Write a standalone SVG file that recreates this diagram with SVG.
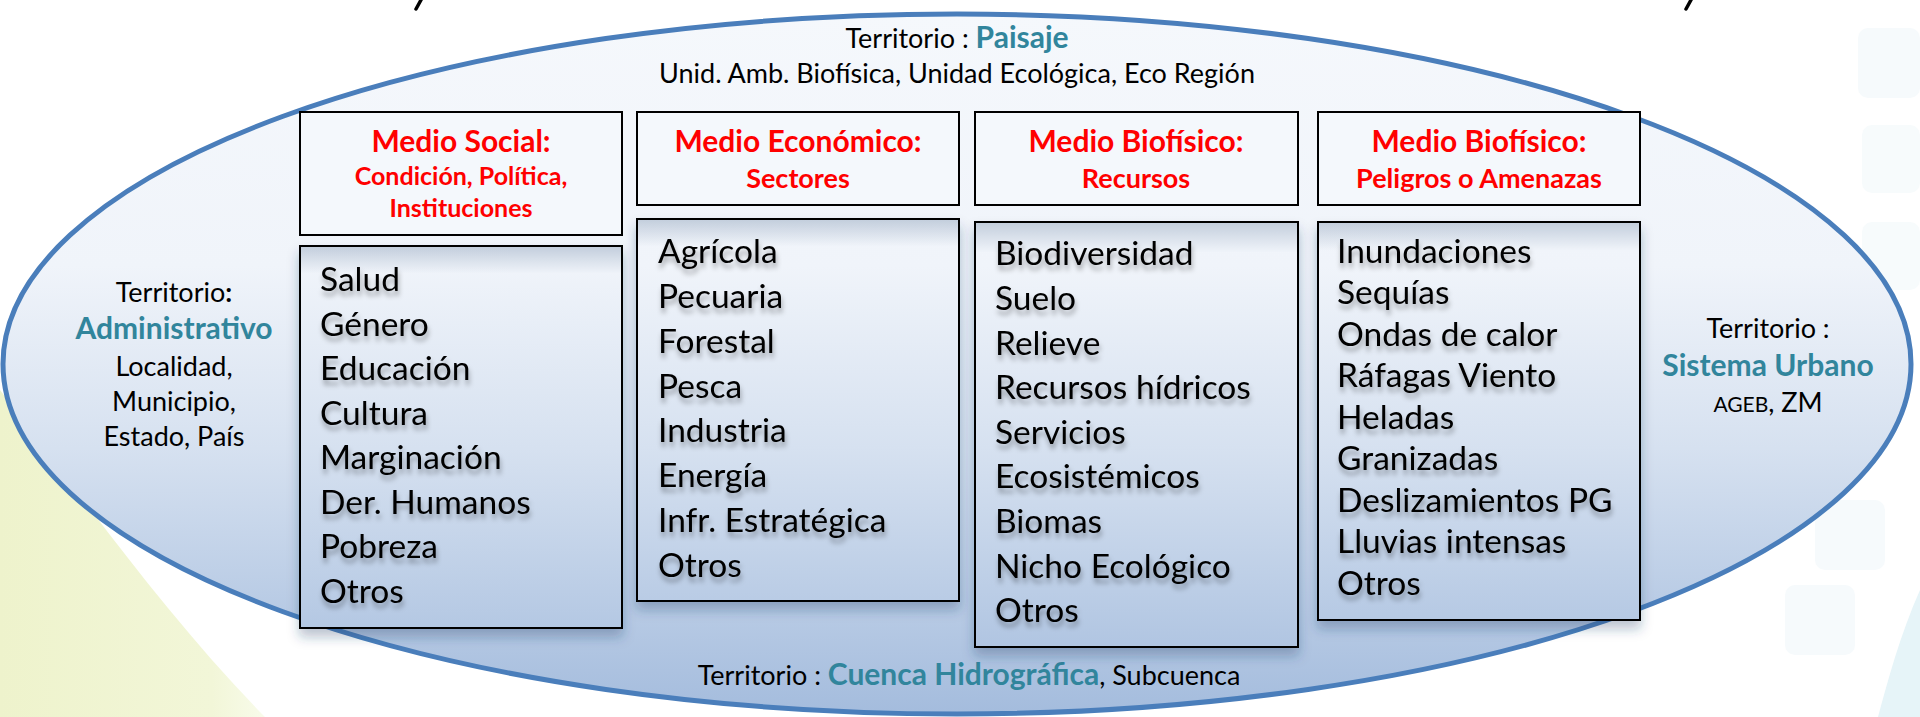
<svg xmlns="http://www.w3.org/2000/svg" width="1920" height="717" viewBox="0 0 1920 717">
<defs>
<style>
.hdr{fill:#F4F8FC;stroke:#000;stroke-width:2}
.box{fill:url(#ellGrad);stroke:#000;stroke-width:2}
.inner{fill:url(#innerShade)}
.ht{font-family:Lato,"Liberation Sans",sans-serif;font-weight:bold;fill:#FF0000;text-anchor:middle}
.h1{font-size:30px}
.h2{font-size:27px}
.h2s{font-size:25px}
.item{font-family:Lato,"Liberation Sans",sans-serif;font-size:33.5px;fill:#000}
.terr{font-family:Lato,"Liberation Sans",sans-serif;font-size:27px;fill:#000;text-anchor:middle}
.teal{fill:#31859C;font-weight:bold}
.big{font-size:30px}
</style>
<linearGradient id="ellGrad" gradientUnits="userSpaceOnUse" x1="0" y1="14" x2="0" y2="714">
<stop offset="0" stop-color="#F5F8FC"/>
<stop offset="0.36" stop-color="#F0F4FA"/>
<stop offset="0.62" stop-color="#D6E1F0"/>
<stop offset="1" stop-color="#A4BCDD"/>
</linearGradient>
<linearGradient id="innerShade" x1="0" y1="0" x2="0" y2="1">
<stop offset="0" stop-color="#6F87A6" stop-opacity="0.35"/>
<stop offset="0.07" stop-color="#6F87A6" stop-opacity="0"/>
</linearGradient>
<linearGradient id="yellowGrad" x1="0" y1="0" x2="1" y2="0">
<stop offset="0" stop-color="#EEF3CC"/>
<stop offset="0.8" stop-color="#F2F6D8"/>
<stop offset="1" stop-color="#F8FBEA"/>
</linearGradient>
<filter id="boxShadow" x="-10%" y="-10%" width="120%" height="125%">
<feGaussianBlur in="SourceAlpha" stdDeviation="6"/>
<feOffset dy="8" result="b"/>
<feFlood flood-color="#1F3D66" flood-opacity="0.3"/>
<feComposite in2="b" operator="in"/>
<feMerge><feMergeNode/><feMergeNode in="SourceGraphic"/></feMerge>
</filter>
<filter id="txtShadow" x="-10%" y="-20%" width="120%" height="150%">
<feGaussianBlur in="SourceAlpha" stdDeviation="2.8"/>
<feOffset dx="1" dy="5" result="b"/>
<feFlood flood-color="#000" flood-opacity="0.33"/>
<feComposite in2="b" operator="in"/>
<feMerge><feMergeNode/><feMergeNode in="SourceGraphic"/></feMerge>
</filter>
</defs>

<g id="background">
<rect x="0" y="0" width="1920" height="717" fill="#FFFFFF"/>
<path d="M0,390 C70,480 160,610 265,717 L0,717 Z" fill="url(#yellowGrad)"/>
<rect x="1858" y="28" width="62" height="70" rx="10" fill="#F6FAFC"/>
<rect x="1862" y="125" width="58" height="68" rx="10" fill="#F7FBFC"/>
<rect x="1862" y="222" width="58" height="68" rx="10" fill="#F7FBFC"/>
<rect x="1815" y="500" width="70" height="70" rx="10" fill="#F6FAFC"/>
<rect x="1785" y="585" width="70" height="70" rx="10" fill="#F6FAFC"/>
<path d="M1920,590 C1900,635 1888,680 1878,717 L1920,717 Z" fill="#E6F4F8"/>
<path d="M421,0 L416,9" stroke="#000" stroke-width="3.5" stroke-linecap="round"/>
<path d="M1691,0 L1686,9" stroke="#000" stroke-width="3.5" stroke-linecap="round"/>
</g>

<g id="territorio">
<ellipse cx="957" cy="364" rx="954" ry="350" fill="url(#ellGrad)" stroke="#4A7EBB" stroke-width="5"/>
<text class="terr" x="957" y="48">Territorio : <tspan class="teal big">Paisaje</tspan></text>
<text class="terr" x="957" y="83">Unid. Amb. Biofísica, Unidad Ecológica, Eco Región</text>
<text class="terr" x="174" y="302">Territorio<tspan font-weight="bold">:</tspan></text>
<text class="terr teal big" x="174" y="339">Administrativo</text>
<text class="terr" x="174" y="376">Localidad,</text>
<text class="terr" x="174" y="411">Municipio,</text>
<text class="terr" x="174" y="446">Estado, País</text>
<text class="terr" x="1768" y="338">Territorio :</text>
<text class="terr teal big" x="1768" y="376">Sistema Urbano</text>
<text class="terr" x="1768" y="412"><tspan font-size="21px">AGEB</tspan>, ZM</text>
<text class="terr" x="969" y="685">Territorio : <tspan class="teal big">Cuenca Hidrográfica</tspan>, Subcuenca</text>
</g>

<g id="connectors"/>

<g id="medio-social">
<rect class="hdr" x="300" y="112" width="322" height="123"/>
<text class="ht h1" x="461" y="152">Medio Social:</text>
<text class="ht h2s" x="461" y="185">Condición, Política,</text>
<text class="ht h2s" x="461" y="217">Instituciones</text>
<g filter="url(#boxShadow)"><rect class="box" x="300" y="246" width="322" height="382"/></g>
<rect class="inner" x="301" y="247" width="320" height="380"/>
<g class="item" filter="url(#txtShadow)">
<text x="320" y="291">Salud</text>
<text x="320" y="335.5">Género</text>
<text x="320" y="380">Educación</text>
<text x="320" y="424.5">Cultura</text>
<text x="320" y="469">Marginación</text>
<text x="320" y="513.5">Der. Humanos</text>
<text x="320" y="558">Pobreza</text>
<text x="320" y="602.5">Otros</text>
</g>
</g>

<g id="medio-economico">
<rect class="hdr" x="637" y="112" width="322" height="93"/>
<text class="ht h1" x="798" y="152">Medio Económico:</text>
<text class="ht h2" x="798" y="188">Sectores</text>
<g filter="url(#boxShadow)"><rect class="box" x="637" y="219" width="322" height="382"/></g>
<rect class="inner" x="638" y="220" width="320" height="380"/>
<g class="item" filter="url(#txtShadow)">
<text x="658" y="263">Agrícola</text>
<text x="658" y="308">Pecuaria</text>
<text x="658" y="353">Forestal</text>
<text x="658" y="398">Pesca</text>
<text x="658" y="442">Industria</text>
<text x="658" y="487">Energía</text>
<text x="658" y="532">Infr. Estratégica</text>
<text x="658" y="577">Otros</text>
</g>
</g>

<g id="medio-biofisico-recursos">
<rect class="hdr" x="975" y="112" width="323" height="93"/>
<text class="ht h1" x="1136" y="152">Medio Biofísico:</text>
<text class="ht h2" x="1136" y="188">Recursos</text>
<g filter="url(#boxShadow)"><rect class="box" x="975" y="222" width="323" height="425"/></g>
<rect class="inner" x="976" y="223" width="321" height="423"/>
<g class="item" filter="url(#txtShadow)">
<text x="995" y="265">Biodiversidad</text>
<text x="995" y="310">Suelo</text>
<text x="995" y="355">Relieve</text>
<text x="995" y="399">Recursos hídricos</text>
<text x="995" y="444">Servicios</text>
<text x="995" y="488">Ecosistémicos</text>
<text x="995" y="533">Biomas</text>
<text x="995" y="578">Nicho Ecológico</text>
<text x="995" y="622">Otros</text>
</g>
</g>

<g id="medio-biofisico-peligros">
<rect class="hdr" x="1318" y="112" width="322" height="93"/>
<text class="ht h1" x="1479" y="152">Medio Biofísico:</text>
<text class="ht h2" x="1479" y="188">Peligros o Amenazas</text>
<g filter="url(#boxShadow)"><rect class="box" x="1318" y="222" width="322" height="398"/></g>
<rect class="inner" x="1319" y="223" width="320" height="396"/>
<g class="item" filter="url(#txtShadow)" font-size="31.5px">
<text x="1337" y="263">Inundaciones</text>
<text x="1337" y="304">Sequías</text>
<text x="1337" y="346">Ondas de calor</text>
<text x="1337" y="387">Ráfagas Viento</text>
<text x="1337" y="429">Heladas</text>
<text x="1337" y="470">Granizadas</text>
<text x="1337" y="512">Deslizamientos PG</text>
<text x="1337" y="553">Lluvias intensas</text>
<text x="1337" y="595">Otros</text>
</g>
</g>
</svg>
